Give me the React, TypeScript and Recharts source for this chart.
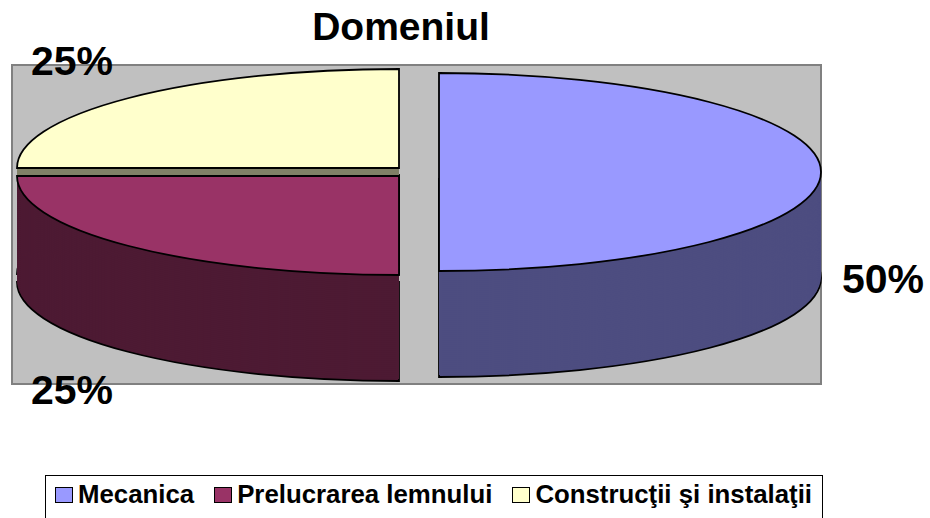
import React from 'react';
import { PieChart, Pie, Cell, Legend } from 'recharts';

const categories = ['Mecanica', 'Prelucrarea lemnului', 'Construcţii şi instalaţii'];
const shares = [50, 25, 25];
const topColors = ['#9999FF', '#993366', '#FFFFCC'];
const sideColors = ['#4D4D80', '#4D1A33', '#808066'];
const title = 'Domeniul';

const data = categories.map((name, i) => ({ name, value: shares[i] }));
const total = shares.reduce((a, b) => a + b, 0);

// fake 3D: circles are squashed vertically by css, side walls are stacked copies
const RX = 382;
const RY = 99;
const SY = RY / RX;
const DEPTH = 106;
const STEP = 2;
// exploded slice centres on screen
const centres = [
  { x: 439, y: 172 },
  { x: 399, y: 176 },
  { x: 399, y: 168 },
];
const paintOrder = [2, 1, 0];
const labelPos = [
  { x: 842, y: 293 },
  { x: 31, y: 404 },
  { x: 31, y: 75 },
];

const FONT = '"Liberation Sans", Arial, Helvetica, sans-serif';

const css = `
.pie3d path.recharts-sector {
  transform: scaleY(${SY});
  transform-origin: 0 0;
  transform-box: view-box;
  vector-effect: non-scaling-stroke;
}
`;

function layer(idx: number, dy: number, kind: 'side' | 'bottom' | 'top') {
  const c = centres[idx];
  const fill = kind === 'top' ? topColors[idx] : sideColors[idx];
  const stroke = kind === 'side' ? 'none' : '#000';
  return (
    <Pie
      key={`${idx}-${kind}-${dy}`}
      data={data}
      dataKey="value"
      nameKey="name"
      cx={c.x}
      cy={(c.y + dy) / SY}
      outerRadius={RX}
      innerRadius={0}
      startAngle={90}
      endAngle={-270}
      isAnimationActive={false}
      legendType="none"
    >
      {data.map((d, i) => (
        <Cell
          key={d.name}
          fill={i === idx ? fill : 'none'}
          stroke={i === idx ? stroke : 'none'}
          strokeWidth={1.8}
        />
      ))}
    </Pie>
  );
}

function LegendBox() {
  return (
    <div
      style={{
        boxSizing: 'border-box',
        width: 778,
        height: 60,
        border: '1.5px solid #000',
        background: '#fff',
        display: 'flex',
        alignItems: 'center',
        paddingLeft: 9,
        paddingBottom: 22,
        fontFamily: FONT,
        fontWeight: 'bold',
        fontSize: 25.8,
        lineHeight: '28px',
        color: '#000',
        whiteSpace: 'nowrap',
        overflow: 'visible',
      }}
    >
      {categories.map((name, i) => (
        <div key={name} style={{ display: 'flex', alignItems: 'center', marginRight: 20, flexShrink: 0 }}>
          <span
            style={{
              display: 'inline-block',
              boxSizing: 'border-box',
              width: 18,
              height: 16,
              background: topColors[i],
              border: '1.5px solid #000',
              marginRight: 5,
              marginTop: 2,
              flexShrink: 0,
            }}
          />
          <span>{name}</span>
        </div>
      ))}
    </div>
  );
}

export default function App() {
  const layers: React.ReactNode[] = [];
  paintOrder.forEach((idx) => {
    for (let d = DEPTH; d > 0; d -= STEP) {
      layers.push(layer(idx, d, d === DEPTH ? 'bottom' : 'side'));
    }
    layers.push(layer(idx, 0, 'top'));
  });

  return (
    <div
      className="pie3d"
      style={{ position: 'absolute', left: 0, top: 0, width: 930, height: 518, background: '#fff', overflow: 'hidden' }}
    >
      <style>{css}</style>
      <div
        style={{
          position: 'absolute',
          left: 11,
          top: 64,
          width: 811,
          height: 321,
          boxSizing: 'border-box',
          background: '#C0C0C0',
          border: '2px solid #808080',
        }}
      />
      <div style={{ position: 'absolute', left: 0, top: 0 }}>
        <PieChart width={930} height={518} margin={{ top: 0, right: 0, bottom: 0, left: 0 }}>
          {layers}
          <Legend
            verticalAlign="bottom"
            content={() => <LegendBox />}
            wrapperStyle={{ left: 45, top: 475, bottom: 'auto', width: 778 }}
          />
          <text x={401} y={40} textAnchor="middle" fontFamily={FONT} fontWeight="bold" fontSize={39} fill="#000">
            {title}
          </text>
          {shares.map((v, i) => (
            <text
              key={categories[i]}
              x={labelPos[i].x}
              y={labelPos[i].y}
              fontFamily={FONT}
              fontWeight="bold"
              fontSize={41}
              fill="#000"
            >
              {`${Math.round((v / total) * 100)}%`}
            </text>
          ))}
        </PieChart>
      </div>
    </div>
  );
}
